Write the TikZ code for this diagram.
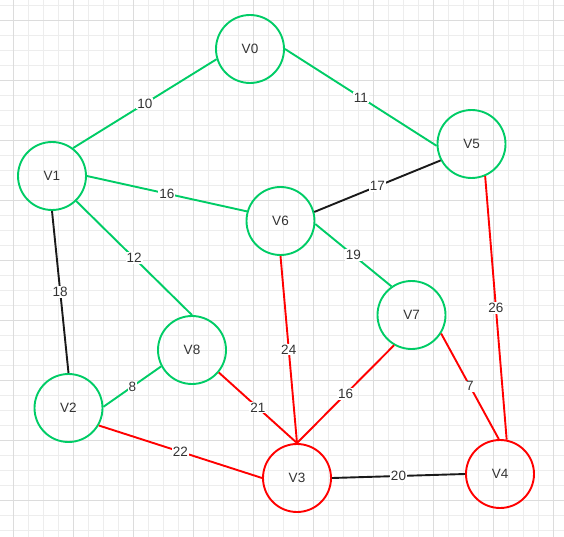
\documentclass[tikz,border=0pt]{standalone}
\usepackage{fontspec}
\setmainfont{Liberation Sans}
\definecolor{vgreen}{HTML}{00CC66}
\definecolor{vred}{HTML}{FF0000}
\definecolor{vdark}{HTML}{1A1A1A}
\definecolor{txtgray}{HTML}{333333}
\definecolor{gridminor}{HTML}{EDEDED}
\definecolor{gridmajor}{HTML}{DCDCDC}
\begin{document}
\begin{tikzpicture}[x=1pt, y=-1pt,
    vtx/.style={circle, line width=1.9pt, minimum size=68pt, inner sep=0pt,
      font=\fontsize{13.5}{15}\selectfont, text=txtgray},
    gedge/.style={line width=1.9pt, vgreen},
    redge/.style={line width=1.9pt, vred},
    dedge/.style={line width=1.9pt, vdark},
    wlab/.style={fill=white, inner sep=1pt, text=txtgray,
      font=\fontsize{13.5}{15}\selectfont}]
  \useasboundingbox (0,0) rectangle (564,537);
  % 背景の方眼
  \foreach \gx in {0,...,37} \draw[gridminor, line width=0.8pt] ({13.33+15*\gx},0) -- ++(0,537);
  \foreach \gy in {0,...,35} \draw[gridminor, line width=0.8pt] (0,{5+15*\gy}) -- ++(564,0);
  \foreach \gx in {0,...,9} \draw[gridmajor, line width=0.8pt] ({13.33+60*\gx},0) -- ++(0,537);
  \foreach \gy in {0,...,8} \draw[gridmajor, line width=0.8pt] (0,{20+60*\gy}) -- ++(564,0);
  % 頂点
  \node[vtx, draw=vgreen] (V0) at (250,49) {V0};
  \node[vtx, draw=vgreen] (V1) at (52,176) {V1};
  \node[vtx, draw=vgreen] (V2) at (68.5,408) {V2};
  \node[vtx, draw=vred] (V3) at (297,478) {V3};
  \node[vtx, draw=vred] (V4) at (500,474) {V4};
  \node[vtx, draw=vgreen] (V5) at (471.5,144) {V5};
  \node[vtx, draw=vgreen] (V6) at (280.5,221) {V6};
  \node[vtx, draw=vgreen] (V7) at (411.5,315) {V7};
  \node[vtx, draw=vgreen] (V8) at (192,350) {V8};
  % 辺
  \draw[gedge] (V1.53) -- node[wlab] {10} (V0.197);
  \draw[gedge] (V0.0) -- node[wlab] {11} (V5.183);
  \draw[gedge] (V1.east) -- node[wlab] {16} (V6.164);
  \draw[gedge] (V1.314) -- node[wlab] {12} (V8.north);
  \draw[dedge] (V1.south) -- node[wlab] {18} (V2.north);
  \draw[gedge] (V2.2) -- node[wlab] {8} (V8.208);
  \draw[redge] (V2.330) -- node[wlab] {22} (V3.west);
  \draw[dedge] (V6.15) -- node[wlab] {17} (V5.208);
  \draw[gedge] (V6.355) -- node[wlab] {19} (V7.125);
  \draw[redge] (V6.south) -- node[wlab] {24} (V3.north);
  \draw[redge] (V8.320) -- node[wlab] {21} (V3.north);
  \draw[redge] (V7.240) -- node[wlab] {16} (V3.north);
  \draw[redge] (V7.328) -- node[wlab] {7} (V4.92);
  \draw[redge] (V5.293) -- node[wlab] {26} (V4.79);
  \draw[dedge] (V3.east) -- node[wlab] {20} (V4.west);
\end{tikzpicture}
\end{document}
